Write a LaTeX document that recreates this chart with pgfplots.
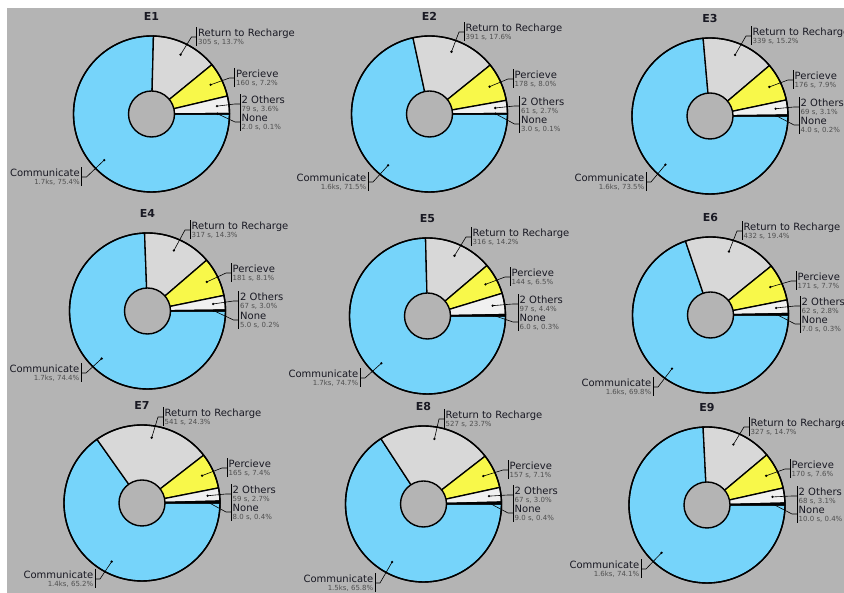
\documentclass[border=0pt]{standalone}
\usepackage{pgfplots}
\pgfplotsset{compat=1.18}
\usepackage{pgfplotstable}
\usepackage{fontspec}
\setmainfont{DejaVu Sans}
\definecolor{bg}{RGB}{180,180,180}
\definecolor{comcol}{RGB}{118,212,250}
\definecolor{retcol}{RGB}{216,216,216}
\definecolor{perccol}{RGB}{248,248,74}
\definecolor{othcol}{RGB}{240,240,240}
\definecolor{namecol}{RGB}{25,25,35}
\definecolor{valcol}{RGB}{80,80,80}

% t* = time label, p* = percent; rbx..cdy = label placement (px offsets from centre, y down)
\pgfplotstableread{
id cx cy tN tO tP tR tC pN pO pP pR pC rbx rdy pbx pdy obx ody ndy cbx cdy
E1 151.5 114 2.0 79 160 305 1.7ks 0.1 3.6 7.2 13.7 75.4 45 -81 83 -40 88.5 -14 4 -70 59
E2 429.5 114 3.0 61 178 391 1.6ks 0.1 2.7 8.0 17.6 71.5 34.5 -86 83.5 -39 90 -12 6 -61.5 64
E3 710 116 4.0 69 176 339 1.6ks 0.2 3.1 7.9 15.2 73.5 41 -84 83 -40 89 -13 5 -64 62
E4 147.5 311 5.0 67 181 317 1.7ks 0.2 3.0 8.1 14.3 74.4 42.5 -85 83.5 -42 91 -14 5 -66.5 58
E5 427.5 316 6.0 97 144 316 1.7ks 0.3 4.4 6.5 14.2 74.7 43.5 -83 82.5 -43 90.5 -16 2 -67.5 58
E6 710.5 315 7.0 62 171 432 1.6ks 0.3 2.8 7.7 19.4 69.8 31.5 -88 85.5 -38 89.5 -13 5 -57.5 68
E7 142 503 8.0 59 165 541 1.4ks 0.4 2.7 7.4 24.3 65.2 21 -90 85 -39 89 -13 5 -47 72
E8 423.5 504 9.0 67 157 527 1.5ks 0.4 3.0 7.1 23.7 65.8 20.5 -89 84.5 -38 89.5 -13 5 -48.5 75
E9 707 505 10.0 68 170 327 1.6ks 0.4 3.1 7.6 14.7 74.1 42 -82 83 -40 90 -13 5 -66 60
}\piedata

\newcommand\gv[2]{\pgfplotstablegetelem{\prow}{#1}\of\piedata\let#2\pgfplotsretval}

\tikzset{
  namefont/.style={font=\fontsize{10}{12}\selectfont, text=namecol},
  valfont/.style={font=\fontsize{7}{8}\selectfont, text=valcol},
}

% right-hand label: angle, bracket x, name dy, name, value
\newcommand\rlab[5]{%
  \draw[line width=0.6pt] (axis cs:0,0) ++(#1:66pt) -- (axis cs:{#2-5},{-(#3+4)}) -- (axis cs:#2,{-(#3+4)});
  \fill[black] (axis cs:0,0) ++(#1:66pt) circle[radius=1.3pt];
  \draw[line width=0.7pt] (axis cs:#2,{-(#3-5.5)}) -- (axis cs:#2,{-(#3+13.5)});
  \node[anchor=base west, inner sep=0pt, namefont] at (axis cs:{#2+1.5},{-(#3+3.6)}) {#4};
  \node[anchor=base west, inner sep=0pt, valfont] at (axis cs:{#2+1.5},{-(#3+12)}) {#5};
}
% left-hand label
\newcommand\llab[5]{%
  \draw[line width=0.6pt] (axis cs:0,0) ++(#1:66pt) -- (axis cs:{#2+5},{-(#3+4)}) -- (axis cs:#2,{-(#3+4)});
  \fill[black] (axis cs:0,0) ++(#1:66pt) circle[radius=1.3pt];
  \draw[line width=0.7pt] (axis cs:#2,{-(#3-5.5)}) -- (axis cs:#2,{-(#3+13.5)});
  \node[anchor=base east, inner sep=0pt, namefont] at (axis cs:{#2-1.5},{-(#3+3.6)}) {#4};
  \node[anchor=base east, inner sep=0pt, valfont] at (axis cs:{#2-1.5},{-(#3+12)}) {#5};
}

\newcommand\piechart[1]{%
  \def\prow{#1}%
  \gv{id}\pid \gv{cx}\pcx \gv{cy}\pcy
  \gv{tN}\tN \gv{tO}\tO \gv{tP}\tP \gv{tR}\tR \gv{tC}\tC
  \gv{pN}\pN \gv{pO}\pO \gv{pP}\pP \gv{pR}\pR \gv{pC}\pC
  \gv{rbx}\rbx \gv{rdy}\rdy \gv{pbx}\pbx \gv{pdy}\pdy
  \gv{obx}\obx \gv{ody}\ody \gv{ndy}\ndy \gv{cbx}\cbx \gv{cdy}\cdy
  \pgfmathsetmacro\aA{3.6*\pN}%
  \pgfmathsetmacro\aB{\aA+3.6*\pO}%
  \pgfmathsetmacro\aC{\aB+3.6*\pP}%
  \pgfmathsetmacro\aD{\aC+3.6*\pR}%
  \pgfmathsetmacro\mN{\aA/2}%
  \pgfmathsetmacro\mO{(\aA+\aB)/2}%
  \pgfmathsetmacro\mP{(\aB+\aC)/2}%
  \pgfmathsetmacro\mR{(\aC+\aD)/2}%
  \pgfmathsetmacro\mC{(\aD+360)/2}%
  \pgfmathsetmacro\py{593-\pcy}%
  \begin{axis}[at={(\pcx pt,\py pt)}, anchor=center, hide axis, clip=false,
      x=1pt, y=1pt, xmin=-100, xmax=100, ymin=-100, ymax=100]
    \filldraw[fill=comcol, line width=1.3pt, line join=round] (axis cs:0,0) -- ++(\aD:78pt) arc[start angle=\aD, end angle=360, radius=78pt] -- cycle;
    \filldraw[fill=retcol, line width=1.3pt, line join=round] (axis cs:0,0) -- ++(\aC:78pt) arc[start angle=\aC, end angle=\aD, radius=78pt] -- cycle;
    \filldraw[fill=perccol, line width=1.3pt, line join=round] (axis cs:0,0) -- ++(\aB:78pt) arc[start angle=\aB, end angle=\aC, radius=78pt] -- cycle;
    \filldraw[fill=othcol, line width=1.3pt, line join=round] (axis cs:0,0) -- ++(\aA:78pt) arc[start angle=\aA, end angle=\aB, radius=78pt] -- cycle;
    \filldraw[fill=black, line width=1.3pt, line join=round] (axis cs:0,0) -- ++(0:78pt) arc[start angle=0, end angle=\aA, radius=78pt] -- cycle;
    \draw[line width=1.4pt] (axis cs:0,0) circle[radius=78pt];
    \filldraw[fill=bg, line width=1.4pt] (axis cs:0,0) circle[radius=23pt];
    \node[font=\bfseries\fontsize{11}{13}\selectfont, text=namecol, inner sep=0pt] at (axis cs:0,97.5) {\pid};
    \rlab{\mR}{\rbx}{\rdy}{Return to Recharge}{\tR\ s, \pR\%}
    \rlab{\mP}{\pbx}{\pdy}{Percieve}{\tP\ s, \pP\%}
    \rlab{\mO}{\obx}{\ody}{2 Others}{\tO\ s, \pO\%}
    \rlab{\mN}{\obx}{\ndy}{None}{\tN\ s, \pN\%}
    \llab{\mC}{\cbx}{\cdy}{Communicate}{\tC, \pC\%}
  \end{axis}%
}

\begin{document}
\begin{tikzpicture}
  \useasboundingbox (0,0) rectangle (844pt,593pt);
  \fill[white] (0,0) rectangle (844pt,593pt);
  \fill[bg] (7pt,0) rectangle (844pt,585pt);
  \clip (0,0) rectangle (844pt,593pt);
  \piechart{0}
  \piechart{1}
  \piechart{2}
  \piechart{3}
  \piechart{4}
  \piechart{5}
  \piechart{6}
  \piechart{7}
  \piechart{8}
\end{tikzpicture}
\end{document}
